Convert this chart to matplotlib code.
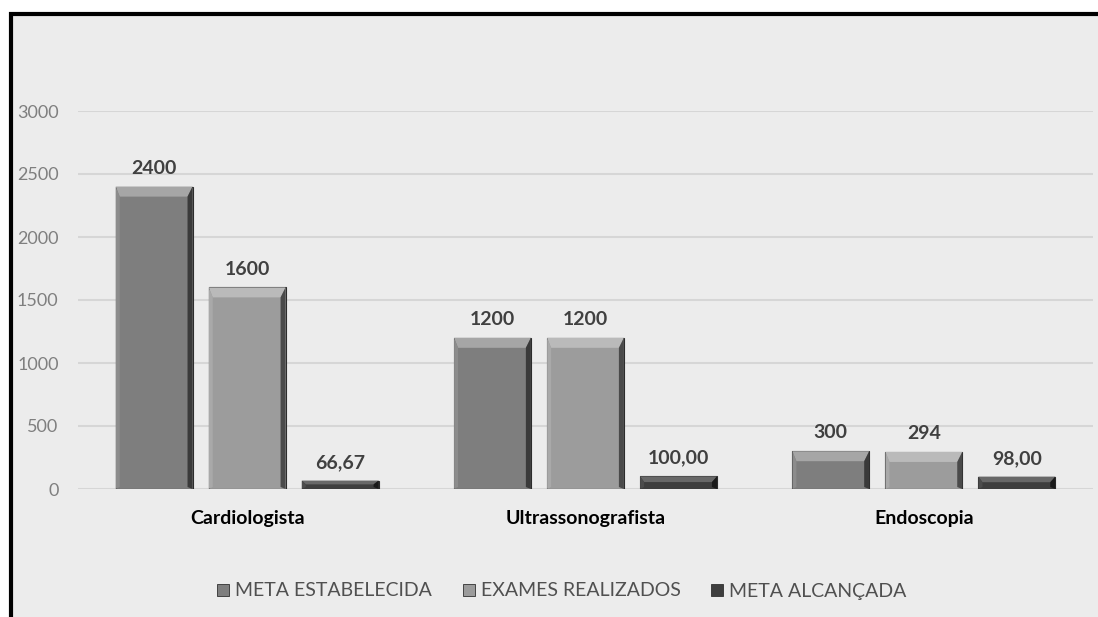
import matplotlib
matplotlib.use("Agg")
import matplotlib.pyplot as plt
import numpy as np
from matplotlib.patches import Rectangle, Polygon
from matplotlib.lines import Line2D

plt.rcParams['font.family'] = ['Lato', 'DejaVu Sans']

categories = ["Cardiologista", "Ultrassonografista", "Endoscopia"]
series_names = ["META ESTABELECIDA", "EXAMES REALIZADOS", "META ALCANÇADA"]
meta_estabelecida = [2400, 1200, 300]
exames_realizados = [1600, 1200, 294]
meta_alcancada = [66.67, 100.00, 98.00]
yticks = [0, 500, 1000, 1500, 2000, 2500, 3000]

series = [meta_estabelecida, exames_realizados, meta_alcancada]
base_colors = ["#7e7e7e", "#9c9c9c", "#3e3e3e"]
top_colors = ["#a6a6a6", "#bababa", "#686868"]
right_colors = ["#3a3a3a", "#4a4a4a", "#1a1a1a"]
left_colors = ["#8c8c8c", "#a9a9a9", "#4c4c4c"]
fmts = [lambda v: f"{v:.0f}", lambda v: f"{v:.0f}", lambda v: f"{v:.2f}".replace(".", ",")]

W, H, DPI = 1098, 617, 100
fig = plt.figure(figsize=(W / DPI, H / DPI), dpi=DPI, facecolor="white")

# background frame
fig.patches.append(Rectangle((10.5 / W, -0.05), 1.1, (H - 14) / H + 0.05,
                             transform=fig.transFigure, facecolor="#ececec",
                             edgecolor="black", linewidth=3.0, zorder=-5))

ax = fig.add_axes([78 / W, 128 / H, (1093 - 78) / W, (489 - 111) / H])
ax.set_zorder(2)
ax.set_facecolor("none")
ax.set_ylim(0, 3000)
ax.set_xlim(-0.5, 2.5)
ax.set_yticks(yticks)
ax.set_yticklabels([str(t) for t in yticks])
for s in ax.spines.values():
    s.set_visible(False)
ax.grid(axis="y", color="#d6d6d6", linewidth=1.5, zorder=0)
ax.set_axisbelow(True)
ax.tick_params(axis="y", length=0, pad=14, labelsize=13, labelcolor="#7f7f7f")
ax.tick_params(axis="x", length=0, pad=15)
x = np.arange(len(categories))
ax.set_xticks(x)
ax.set_xticklabels(categories, fontsize=14, fontweight="bold", color="black")

width = 0.227
offset = 0.275
containers = []
for i, vals in enumerate(series):
    bc = ax.bar(x + (i - 1) * offset, vals, width, color=base_colors[i],
                edgecolor="#2c2c2c", linewidth=0.8, zorder=2, label=series_names[i])
    containers.append(bc)
    ax.bar_label(bc, labels=[fmts[i](v) for v in vals], padding=7,
                 fontsize=14, fontweight="bold", color="#404040")

# bevel decoration derived from the bar geometry (display coords)
fig.canvas.draw()
for i, bc in enumerate(containers):
    for p in bc.patches:
        bb = p.get_window_extent()
        x0, x1, y0, y1 = bb.x0, bb.x1, bb.y0, bb.y1
        h = y1 - y0
        t = min(10, h * 0.45)
        sl = 4
        sr = 5
        top = Polygon([[x0, y1], [x1, y1], [x1 - sr, y1 - t], [x0 + sl, y1 - t]],
                      closed=True, transform=None, facecolor=top_colors[i],
                      edgecolor="none", zorder=10)
        right = Polygon([[x1, y1], [x1, y0], [x1 - sr, y0 + 2], [x1 - sr, y1 - t]],
                        closed=True, transform=None, facecolor=right_colors[i],
                        edgecolor="none", zorder=10)
        left = Polygon([[x0, y1], [x0 + sl, y1 - t], [x0 + sl, y0 + 2], [x0, y0]],
                       closed=True, transform=None, facecolor=left_colors[i],
                       edgecolor="none", zorder=10)
        for poly in (top, right, left):
            fig.artists.append(poly)
            poly.set_figure(fig)

handles = [Line2D([], [], marker="s", linestyle="none", markersize=8,
                  markerfacecolor=base_colors[i], markeredgecolor="#303030",
                  markeredgewidth=0.6) for i in range(3)]
fig.legend(handles, series_names, loc="center", bbox_to_anchor=(561 / W, 26 / H),
           ncol=3, frameon=False, fontsize=14, labelcolor="#505050",
           handlelength=0.8, handletextpad=0.2, columnspacing=1.5)

fig.savefig("out.png", dpi=DPI, facecolor="white")
